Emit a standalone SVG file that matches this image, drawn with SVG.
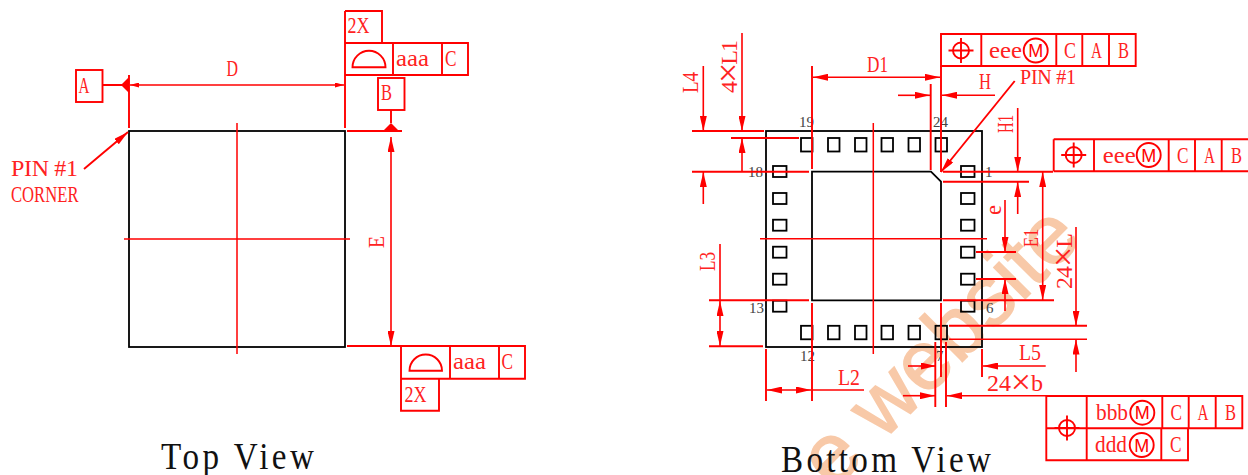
<svg xmlns="http://www.w3.org/2000/svg" width="1248" height="475" viewBox="0 0 1248 475">
<style>
.wm{font-family:"Liberation Sans",sans-serif;font-size:84px;fill:#f8c9a8;stroke:#f8c9a8;stroke-width:1.5}
.r{fill:none;stroke:#f00;stroke-width:1.6}
.t{fill:none;stroke:#f00;stroke-width:1.9}
.k{fill:none;stroke:#000;stroke-width:1.8}
.c{fill:none;stroke:#f00;stroke-width:1.5}
.l{font-family:"Liberation Serif",serif;font-size:24px;fill:#f22}
.s{font-size:20px}
.m{font-family:"Liberation Sans",sans-serif;font-size:18px;fill:#f00;text-anchor:middle}
.n{font-family:"Liberation Serif",serif;font-size:15px;fill:#444}
.h{font-family:"Liberation Serif",serif;font-size:39px;fill:#111}
.p{fill:#f00;stroke:none}
</style>
<defs>
<marker id="a" markerWidth="15" markerHeight="7" refX="15" refY="3.500" orient="auto-start-reverse" markerUnits="userSpaceOnUse"><path d="M0 0L15 3.500L0 7z" fill="#f00"/></marker>
<marker id="b" markerWidth="9" markerHeight="5" refX="9" refY="2.500" orient="auto-start-reverse" markerUnits="userSpaceOnUse"><path d="M0 0L9 2.500L0 5z" fill="#f00"/></marker>
<g id="x"><circle r="8" class="t"/><path d="M-12.500 0H12.500M0-12.500V12.500" class="t"/></g>
<g id="mc"><circle r="12" class="t"/></g>
<g id="pad"><rect width="11.500" height="13.500" class="k"/></g>
<g id="pads"><rect width="13.500" height="11" class="k"/></g>
</defs>
<text class="wm" transform="translate(833 491) rotate(-45)">e website</text>
<g id="top-view">
<rect x="129" y="131" width="216" height="216" class="k"/>
</g>
<g id="top-fcf-1">
<path class="t" d="M345 11H382V43M345 11V75M345 43H468V75H345M393 43V75M442 43V75"/>
<path class="t" d="M352.500 67.300H385.500A16.500 16.500 0 0 0 352.500 67.300Z"/>
<text class="l" x="347.500" y="33" textLength="22" lengthAdjust="spacingAndGlyphs">2X</text>
<text class="l" x="396" y="66" textLength="33" lengthAdjust="spacingAndGlyphs">aaa</text>
<text class="l" x="445" y="66" textLength="11.500" lengthAdjust="spacingAndGlyphs">C</text>
</g>
<g id="top-fcf-2">
<path class="t" d="M401 346H525V378.700H401ZM450 346V378.700M499 346V378.700M401 378.700V410.700H439V378.700"/>
<path class="t" d="M409.500 370.700H442A16.200 16.200 0 0 0 409.500 370.700Z"/>
<text class="l" x="404.500" y="402" textLength="22" lengthAdjust="spacingAndGlyphs">2X</text>
<text class="l" x="453" y="369" textLength="33" lengthAdjust="spacingAndGlyphs">aaa</text>
<text class="l" x="501.500" y="369" textLength="11.500" lengthAdjust="spacingAndGlyphs">C</text>
</g>
<g id="datum-a"><rect x="76" y="70" width="26.500" height="32" class="t"/><text class="l" x="78.500" y="93" textLength="11" lengthAdjust="spacingAndGlyphs">A</text></g>
<g id="datum-b"><rect x="378" y="78" width="26.500" height="32" class="t"/><text class="l" x="381" y="100" textLength="11" lengthAdjust="spacingAndGlyphs">B</text></g>
<g id="bottom-view">
<rect x="766" y="131" width="216" height="216" class="k"/>
<path class="k" d="M812 171.700H931L941 181.700V300.300H812Z"/>
<use href="#pad" x="801" y="138"/><use href="#pad" x="828" y="138"/><use href="#pad" x="855" y="138"/><use href="#pad" x="881.500" y="138"/><use href="#pad" x="908.500" y="138"/><use href="#pad" x="935.500" y="138"/>
<use href="#pad" x="801" y="325.800"/><use href="#pad" x="828" y="325.800"/><use href="#pad" x="855" y="325.800"/><use href="#pad" x="881.500" y="325.800"/><use href="#pad" x="908.500" y="325.800"/><use href="#pad" x="935.500" y="325.800"/>
<use href="#pads" x="773" y="166"/><use href="#pads" x="773" y="193"/><use href="#pads" x="773" y="219.700"/><use href="#pads" x="773" y="246.700"/><use href="#pads" x="773" y="273.700"/><use href="#pads" x="773" y="300.700"/>
<use href="#pads" x="961" y="166"/><use href="#pads" x="961" y="193"/><use href="#pads" x="961" y="219.700"/><use href="#pads" x="961" y="246.700"/><use href="#pads" x="961" y="273.700"/><use href="#pads" x="961" y="300.700"/>
<text class="n" x="799" y="127">19</text><text class="n" x="933" y="127">24</text><text class="n" x="748" y="177">18</text><text class="n" x="985" y="177">1</text>
<text class="n" x="749" y="313">13</text><text class="n" x="986" y="313">6</text><text class="n" x="800" y="361">12</text><text class="n" x="936" y="361">7</text>
</g>
<g id="bottom-fcf-1">
<path class="t" d="M941 34H1135.700V66H941ZM981.300 34V66M1056.300 34V66M1082.300 34V66M1109 34V66"/>
<use href="#x" x="961" y="50.500"/><use href="#mc" x="1035.700" y="50.500"/>
<text class="l" x="989" y="57.500" textLength="33" lengthAdjust="spacingAndGlyphs">eee</text>
<text class="m" x="1035.700" y="57">M</text>
<text class="l" x="1064" y="57.500" textLength="12" lengthAdjust="spacingAndGlyphs">C</text>
<text class="l" x="1091" y="57.500" textLength="11" lengthAdjust="spacingAndGlyphs">A</text>
<text class="l" x="1118" y="57.500" textLength="11" lengthAdjust="spacingAndGlyphs">B</text>
</g>
<g id="bottom-fcf-2">
<path class="t" d="M1053.700 139.300H1248M1053.700 171.300H1248M1053.700 139.300V171.300M1094 139.300V171.300M1168.700 139.300V171.300M1195 139.300V171.300M1221.700 139.300V171.300"/>
<use href="#x" x="1073.700" y="155"/><use href="#mc" x="1148.700" y="155"/>
<text class="l" x="1102.700" y="162.700" textLength="33" lengthAdjust="spacingAndGlyphs">eee</text>
<text class="m" x="1148.700" y="161.500">M</text>
<text class="l" x="1177" y="162.700" textLength="11.500" lengthAdjust="spacingAndGlyphs">C</text>
<text class="l" x="1204" y="162.700" textLength="11" lengthAdjust="spacingAndGlyphs">A</text>
<text class="l" x="1231" y="162.700" textLength="11" lengthAdjust="spacingAndGlyphs">B</text>
</g>
<g id="bottom-fcf-3">
<path class="t" d="M1046.300 396H1242.300V428.300H1046.300ZM1046.300 428.300V460.300H1188V428.300M1086.700 396V460.300M1162.300 396V428.300M1161.300 428.300V460.300M1188.700 396V428.300M1215.700 396V428.300"/>
<use href="#x" x="1067" y="428"/><use href="#mc" x="1142.300" y="412.700"/><use href="#mc" x="1141.700" y="445"/>
<text class="l" x="1096" y="420" textLength="32" lengthAdjust="spacingAndGlyphs">bbb</text>
<text class="m" x="1142.300" y="419">M</text>
<text class="l" x="1095" y="452" textLength="32" lengthAdjust="spacingAndGlyphs">ddd</text>
<text class="m" x="1141.700" y="451.500">M</text>
<text class="l" x="1170.500" y="420" textLength="11.500" lengthAdjust="spacingAndGlyphs">C</text>
<text class="l" x="1197.500" y="420" textLength="11" lengthAdjust="spacingAndGlyphs">A</text>
<text class="l" x="1225" y="420" textLength="11" lengthAdjust="spacingAndGlyphs">B</text>
<text class="l" x="1170" y="452" textLength="11.500" lengthAdjust="spacingAndGlyphs">C</text>
</g>
<g id="connectors">
<path class="c" d="M237 123V354M124 239H350M873.300 123V354M760 238.700H987"/>
<path class="t" d="M129 75V128M102 85H122M345 75V128M347 131H402M391 110V123M347 346H401"/>
<path class="r" d="M130 85H344" marker-start="url(#b)" marker-end="url(#b)"/>
<path class="p" d="M121 85L129 77V93ZM391 123L399 131H383Z"/>
<path class="r" d="M391 137V346" marker-start="url(#a)" marker-end="url(#a)"/>
<path class="t" d="M84 169L128 132" marker-end="url(#a)"/>
<path class="t" d="M692 131H764M731 138H799M692 171.700H809M709 300.300H809M709 346.300H763M943 181.700H1029M943 171.700H1053M943 300.300H1054M949 325.800H1087M976 252H1016M976 279H1016"/>
<path class="c" d="M949 339.300H1087"/>
<path class="t" d="M812 66V169M941 66V172M930.700 84V170M766 349V401M812 303V401M941 303V377M982 349V377M935.300 342V407M946 342V407"/>
<path class="r" d="M703.300 66V131" marker-end="url(#a)"/><path class="r" d="M703.300 204V172" marker-end="url(#a)"/>
<path class="r" d="M742 33V131" marker-end="url(#a)"/><path class="r" d="M742 171.700V138" marker-end="url(#a)"/>
<path class="r" d="M813 77.300H940" marker-start="url(#a)" marker-end="url(#a)"/>
<path class="r" d="M898 95.300H930" marker-end="url(#a)"/><path class="r" d="M995 95.300H942" marker-end="url(#a)"/>
<path class="t" d="M1014.700 81L941 172" marker-end="url(#a)"/>
<path class="r" d="M1017.700 108V171.700" marker-end="url(#a)"/><path class="r" d="M1017.700 214V182" marker-end="url(#a)"/>
<path class="r" d="M1042.700 172V300" marker-start="url(#a)" marker-end="url(#a)"/>
<path class="r" d="M1005 200V252" marker-end="url(#a)"/><path class="r" d="M1005 311V279" marker-end="url(#a)"/>
<path class="r" d="M1076 227V325.700" marker-end="url(#a)"/><path class="r" d="M1076 372V339.500" marker-end="url(#a)"/>
<path class="r" d="M908 366H936" marker-end="url(#a)"/><path class="r" d="M1045.700 366H983" marker-end="url(#a)"/>
<path class="r" d="M903 395.700H935" marker-end="url(#a)"/><path class="r" d="M1046 395.700H947" marker-end="url(#a)"/>
<path class="r" d="M767 390H811" marker-start="url(#a)" marker-end="url(#a)"/><path class="r" d="M812 390H864"/>
<path class="r" d="M720 244V300"/><path class="r" d="M720 301V346" marker-start="url(#a)" marker-end="url(#a)"/>
</g>
<g id="labels">
<text class="l" x="226.500" y="76" textLength="11.500" lengthAdjust="spacingAndGlyphs">D</text>
<text class="l" transform="translate(384 248) rotate(-90)" textLength="12" lengthAdjust="spacingAndGlyphs">E</text>
<text class="l" x="11" y="175.700" textLength="67" lengthAdjust="spacing">PIN #1</text>
<text class="l" x="11" y="202" textLength="67.500" lengthAdjust="spacingAndGlyphs">CORNER</text>
<text class="l" x="867" y="72" textLength="21" lengthAdjust="spacingAndGlyphs">D1</text>
<text class="l" x="979" y="89" textLength="12" lengthAdjust="spacingAndGlyphs">H</text>
<text class="l s" x="1020" y="84" textLength="56" lengthAdjust="spacing">PIN #1</text>
<text class="l" transform="translate(698 93) rotate(-90)" textLength="21" lengthAdjust="spacingAndGlyphs">L4</text>
<text class="l" transform="translate(737 93) rotate(-90)" textLength="53" lengthAdjust="spacing">4<tspan font-size="36" dy="3">×</tspan><tspan dy="-3">L1</tspan></text>
<text class="l" transform="translate(1013 133) rotate(-90)" textLength="18" lengthAdjust="spacingAndGlyphs">H1</text>
<text class="l" transform="translate(1001 215) rotate(-90)" textLength="10" lengthAdjust="spacingAndGlyphs">e</text>
<text class="l s" transform="translate(1038 247) rotate(-90)" textLength="18" lengthAdjust="spacingAndGlyphs">E1</text>
<text class="l" transform="translate(1072 289) rotate(-90)" textLength="56" lengthAdjust="spacing">24<tspan font-size="36" dy="3">×</tspan><tspan dy="-3">L</tspan></text>
<text class="l" transform="translate(715 271) rotate(-90)" textLength="19" lengthAdjust="spacingAndGlyphs">L3</text>
<text class="l" x="838" y="385" textLength="22" lengthAdjust="spacingAndGlyphs">L2</text>
<text class="l" x="1019" y="360" textLength="22" lengthAdjust="spacingAndGlyphs">L5</text>
<text class="l" x="987" y="391" textLength="56" lengthAdjust="spacing">24<tspan font-size="36" dy="3">×</tspan><tspan dy="-3">b</tspan></text>
<text class="h" transform="translate(161 469) scale(.85 1)" textLength="180" lengthAdjust="spacing">Top View</text>
<text class="h" transform="translate(781 472) scale(.85 1)" textLength="247" lengthAdjust="spacing">Bottom View</text>
</g>
</svg>
